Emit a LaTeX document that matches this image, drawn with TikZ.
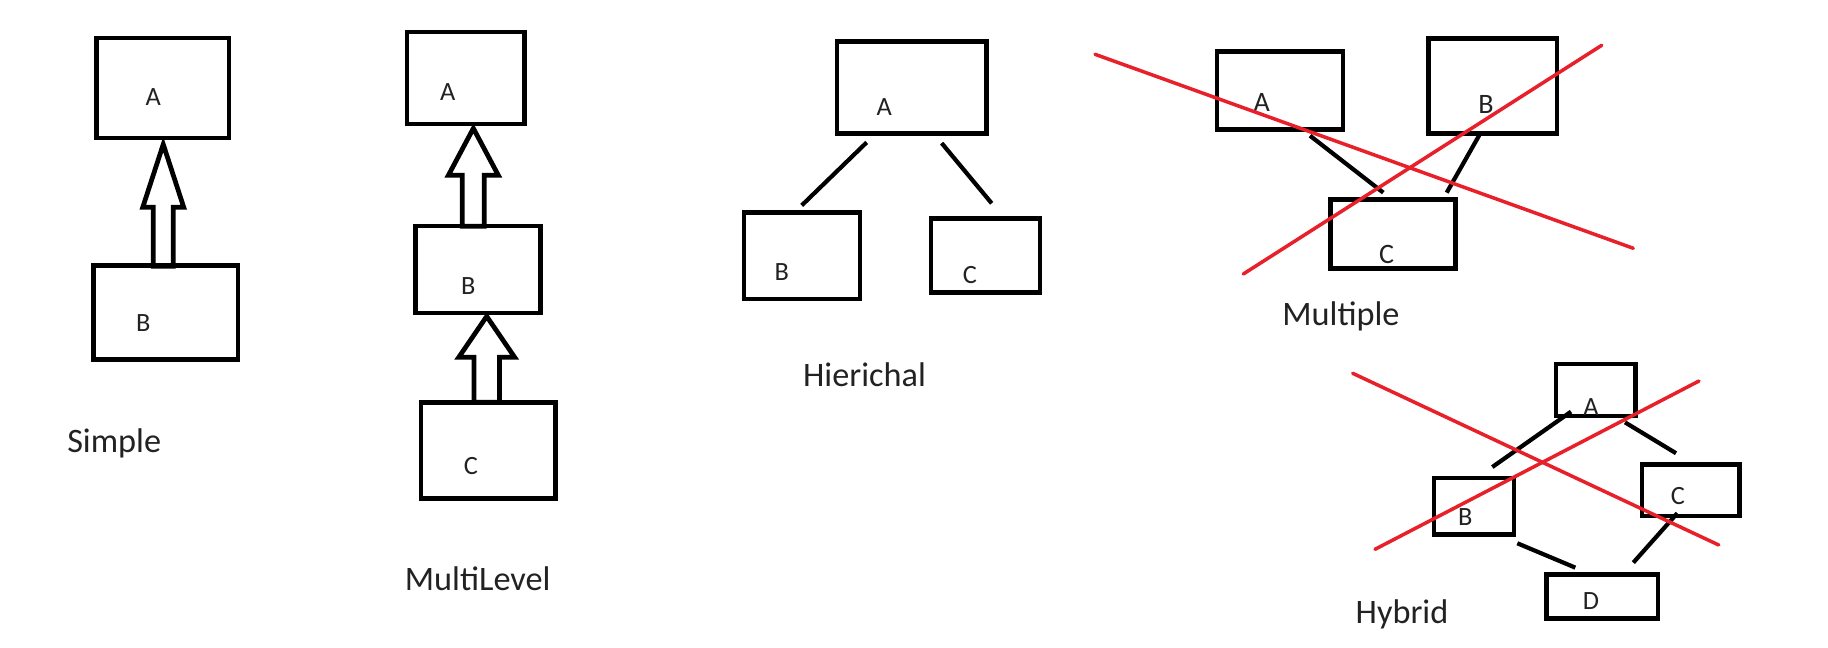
\documentclass[tikz,border=0pt]{standalone}
\usepackage{fontspec}
\setmainfont{Carlito}
\usepackage{tikz}
\usetikzlibrary{calc}
\definecolor{ink}{HTML}{222222}
\definecolor{strike}{HTML}{E8202A}

\begin{document}
\begin{tikzpicture}[x=0.02cm,y=-0.02cm]
\useasboundingbox (0,0) rectangle (1828,648);
\begin{scope}[every node/.style={rectangle,draw,line width=2.7pt,inner sep=0pt}]
    % Simple
    \node[minimum width=2.65cm,minimum height=2.00cm] (sA) at (162.65,88) {};
    \node[minimum width=2.89cm,minimum height=1.89cm] (sB) at (165.85,312.5) {};
    % MultiLevel
    \node[minimum width=2.35cm,minimum height=1.84cm] (mA) at (465.85,78) {};
    \node[minimum width=2.51cm,minimum height=1.74cm] (mB) at (478,269.5) {};
    \node[minimum width=2.69cm,minimum height=1.92cm] (mC) at (488.35,450.7) {};
    % Hierichal
    \node[minimum width=2.99cm,minimum height=1.85cm] (hA) at (911.65,87.5) {};
    \node[minimum width=2.32cm,minimum height=1.73cm] (hB) at (802,255.65) {};
    \node[minimum width=2.18cm,minimum height=1.48cm] (hC) at (985.5,255.7) {};
    % Multiple
    \node[minimum width=2.52cm,minimum height=1.57cm] (pA) at (1280,90.5) {};
    \node[minimum width=2.57cm,minimum height=1.90cm] (pB) at (1492.85,86.2) {};
    \node[minimum width=2.49cm,minimum height=1.38cm] (pC) at (1393,234.2) {};
    % Hybrid
    \node[minimum width=1.59cm,minimum height=1.04cm] (yA) at (1595.65,390) {};
    \node[minimum width=1.60cm,minimum height=1.13cm] (yB) at (1474,506.35) {};
    \node[minimum width=1.95cm,minimum height=1.03cm] (yC) at (1690.65,490.35) {};
    \node[minimum width=2.23cm,minimum height=0.88cm] (yD) at (1602.15,596.7) {};
\end{scope}
\begin{scope}[every node/.style={text=ink,inner sep=0pt,font=\fontsize{15}{17}\selectfont},
              title/.style={font=\fontsize{19.5}{23}\selectfont,anchor=base}]
    \node (sAl) at (153.3,97.3) {A};
    \node (sBl) at (143.3,323.3) {B};
    \node (mAl) at (447.7,91.7) {A};
    \node (mBl) at (468.3,286) {B};
    \node (mCl) at (471,466) {C};
    \node (hAl) at (884.3,107.3) {A};
    \node (hBl) at (781.7,271.7) {B};
    \node (hCl) at (970,275) {C};
    \node[font=\fontsize{16}{18}\selectfont] (pAl) at (1261.7,102.7) {A};
    \node[font=\fontsize{16}{18}\selectfont] (pBl) at (1486,104) {B};
    \node[font=\fontsize{16}{18}\selectfont] (pCl) at (1386.7,254.3) {C};
    \node (yAl) at (1591,406.7) {A};
    \node (yBl) at (1465.3,516.7) {B};
    \node (yCl) at (1678,496) {C};
    \node (yDl) at (1591,600.7) {D};
    \node[title] (simple) at (114.2,452.7) {Simple};
    \node[title] (multilevel) at (477.7,590) {MultiLevel};
    \node[title] (hierichal) at (864.5,386.7) {Hierichal};
    \node[title] (multiple) at (1341,326) {Multiple};
    \node[title] (hybrid) at (1402,623.3) {Hybrid};
\end{scope}
\begin{scope}[link_edge/.style={draw=black,line width=2.4pt},
              block_edge/.style={draw=black,line width=2.7pt,line join=miter},
              cross_edge/.style={draw=strike,line width=2pt,line cap=round}]
    % hollow block arrows
    \draw[block_edge] ($(sA.south)+(0.6,4)$) -- ++(20.5,63) -- ++(-10.5,0) -- ++(0,59)
        -- ++(-20,0) -- ++(0,-59) -- ++(-10.5,0) -- cycle;
    \draw[block_edge] ($(mA.south)+(7.5,2)$) -- ++(25,47) -- ++(-14,0) -- ++(0,51)
        -- ++(-22,0) -- ++(0,-51) -- ++(-14,0) -- cycle;
    \draw[block_edge] ($(mB.south)+(8.7,1)$) -- ++(28,41) -- ++(-15.3,0) -- ++(0,45)
        -- ++(-25.4,0) -- ++(0,-45) -- ++(-15.3,0) -- cycle;
    % plain links
    \path ($(hA.south)+(-45,6.3)$) edge [link_edge] ($(hB.north)+(-0.3,-4.6)$);
    \path ($(hA.south)+(30,7)$) edge [link_edge] ($(hC.north)+(6.2,-13)$);
    \path ($(pA.south)+(30,3.6)$) edge [link_edge] ($(pC.north)+(-9.7,-4.7)$);
    \path ($(pB.south)+(-13.5,-1)$) edge [link_edge] ($(pC.north)+(53.7,-4.7)$);
    \path ($(yA.south)+(-24.65,-6.7)$) edge [link_edge] ($(yB.north)+(18.3,-8.7)$);
    \path ($(yA.south)+(29.35,4)$) edge [link_edge] ($(yC.north)+(-14.65,-9)$);
    \path ($(yB.south)+(43.3,6.3)$) edge [link_edge] ($(yD.north)+(-26.85,-4.7)$);
    \path ($(yC.south)+(-13.35,-5.3)$) edge [link_edge] ($(yD.north)+(31.15,-9.7)$);
    % crossed out
    \draw[cross_edge] (1095,54.3) -- (1633.3,248.3);
    \draw[cross_edge] (1601.7,45.3) -- (1243.3,274);
    \draw[cross_edge] (1352.7,373.3) -- (1718.7,545);
    \draw[cross_edge] (1699,381) -- (1375,549.3);
\end{scope}
\end{tikzpicture}
\end{document}
